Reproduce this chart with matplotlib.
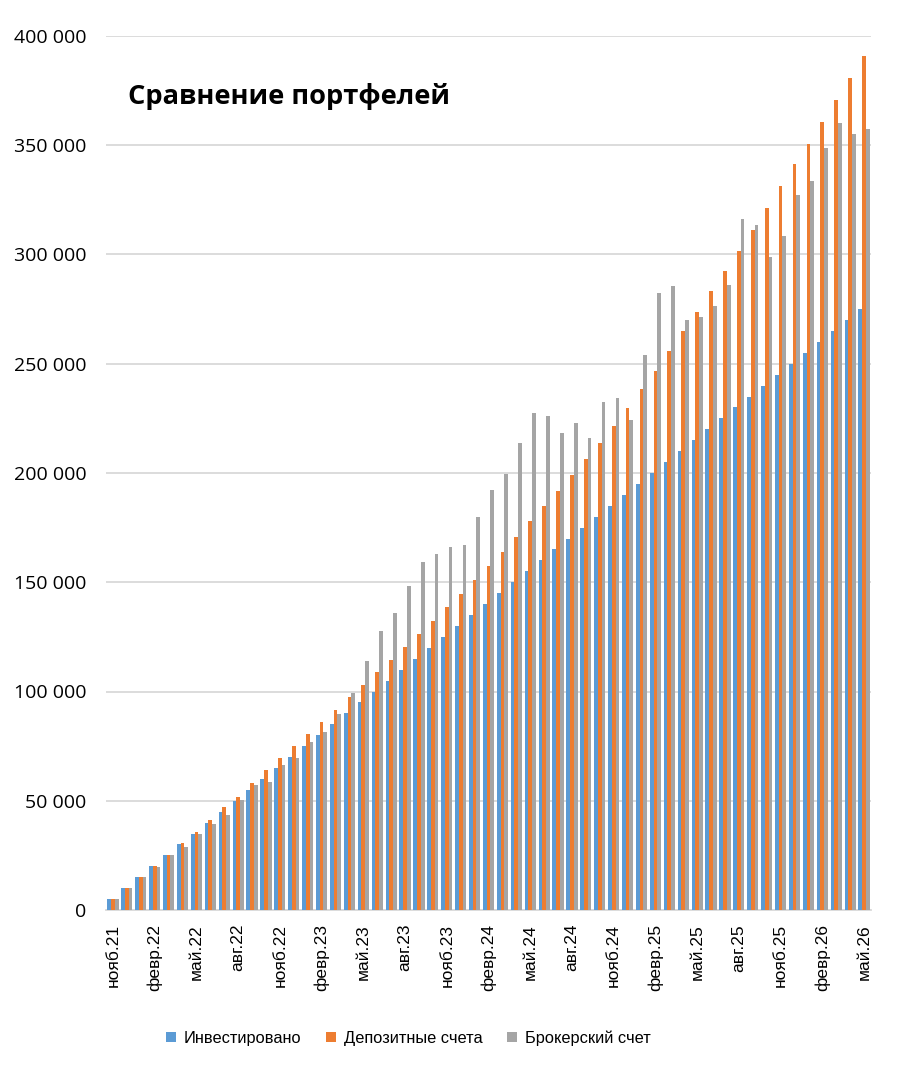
import matplotlib
matplotlib.use("Agg")
import matplotlib.pyplot as plt
import matplotlib.ticker as mticker
import numpy as np

# Monthly data, нояб.21 .. май.26
months = ["нояб.21", "дек.21",
          "янв.22", "февр.22", "март.22", "апр.22", "май.22", "июнь.22",
          "июль.22", "авг.22", "сент.22", "окт.22", "нояб.22", "дек.22",
          "янв.23", "февр.23", "март.23", "апр.23", "май.23", "июнь.23",
          "июль.23", "авг.23", "сент.23", "окт.23", "нояб.23", "дек.23",
          "янв.24", "февр.24", "март.24", "апр.24", "май.24", "июнь.24",
          "июль.24", "авг.24", "сент.24", "окт.24", "нояб.24", "дек.24",
          "янв.25", "февр.25", "март.25", "апр.25", "май.25", "июнь.25",
          "июль.25", "авг.25", "сент.25", "окт.25", "нояб.25", "дек.25",
          "янв.26", "февр.26", "март.26", "апр.26", "май.26"]

invested = [5000, 10000, 15000, 20000, 25000, 30000, 35000, 40000, 45000, 50000,
            55000, 60000, 65000, 70000, 75000, 80000, 85000, 90000, 95000, 100000,
            105000, 110000, 115000, 120000, 125000, 130000, 135000, 140000, 145000, 150000,
            155000, 160000, 165000, 170000, 175000, 180000, 185000, 190000, 195000, 200000,
            205000, 210000, 215000, 220000, 225000, 230000, 235000, 240000, 245000, 250000,
            255000, 260000, 265000, 270000, 275000]

deposits = [5000, 10000, 15000, 20100, 25200, 30500, 35800, 41200, 47000, 51900,
            58200, 64100, 69400, 74900, 80500, 86100, 91700, 97300, 103000, 108800,
            114300, 120200, 126300, 132400, 138500, 144800, 151000, 157300, 164000, 170900,
            177900, 184900, 191800, 199000, 206300, 213700, 221500, 229600, 238400, 246800,
            255800, 265000, 273800, 283100, 292600, 301600, 311000, 321100, 331400, 341300,
            350700, 360600, 370500, 380600, 391000]

broker = [5000, 10000, 15000, 19600, 25200, 29000, 34600, 39200, 43600, 50300,
          57000, 58600, 66300, 69700, 77000, 81500, 89700, 99500, 114000, 127700,
          136100, 148400, 159400, 162900, 166300, 166900, 180000, 192100, 199400, 213600,
          227500, 226200, 218100, 222700, 216200, 232400, 234500, 224100, 253900, 282200,
          285700, 270000, 271500, 276400, 285900, 316200, 313500, 298700, 308600, 327100,
          333500, 348600, 360300, 355300, 357300]

series_names = ["Инвестировано", "Депозитные счета", "Брокерский счет"]
colors = ["#5B9BD5", "#ED7D31", "#A5A5A5"]

fig = plt.figure(figsize=(9.1, 10.74), dpi=100)
ax = fig.add_axes([106 / 910, (1074 - 910) / 1074, (871 - 106) / 910, (910 - 36) / 1074])

x = np.arange(len(months))
w = 0.27
for k, (vals, name, col) in enumerate(zip([invested, deposits, broker], series_names, colors)):
    ax.bar(x + (k - 1) * w, vals, width=w, color=col, label=name, zorder=3)

ax.set_xlim(-0.5, len(months) - 0.5)
ax.set_ylim(0, 400000)
ax.yaxis.set_major_locator(mticker.MultipleLocator(50000))
ax.yaxis.set_major_formatter(mticker.FuncFormatter(lambda v, p: f"{int(v):,}".replace(",", " ")))
ax.grid(axis="y", color="#D9D9D9", linewidth=1.3, zorder=0)

for s in ["top", "right", "left"]:
    ax.spines[s].set_visible(False)
ax.spines["bottom"].set_color("#D9D9D9")
ax.spines["bottom"].set_linewidth(1.3)

ax.tick_params(axis="y", length=0, pad=14, labelsize=14)
for lab in ax.get_yticklabels():
    lab.set_fontfamily("Open Sans")

tick_idx = x[::3]
ax.set_xticks(tick_idx)
ax.set_xticklabels([months[i] for i in tick_idx], rotation=90, fontsize=12.5,
                   fontfamily="Liberation Sans")
ax.tick_params(axis="x", length=0, pad=10)

fig.text(128 / 910, 1 - 96 / 1074, "Сравнение портфелей", fontsize=19.6, fontweight="bold",
         fontfamily="Open Sans", va="center", ha="left")

fig.legend(loc="center", bbox_to_anchor=(0.449, 1 - 1038 / 1074), ncol=3, frameon=False,
           prop={"family": "Liberation Sans", "size": 11.8}, handlelength=0.6,
           handleheight=0.6, handletextpad=0.5, columnspacing=1.5)

fig.savefig("out.png", dpi=100, facecolor="white")
